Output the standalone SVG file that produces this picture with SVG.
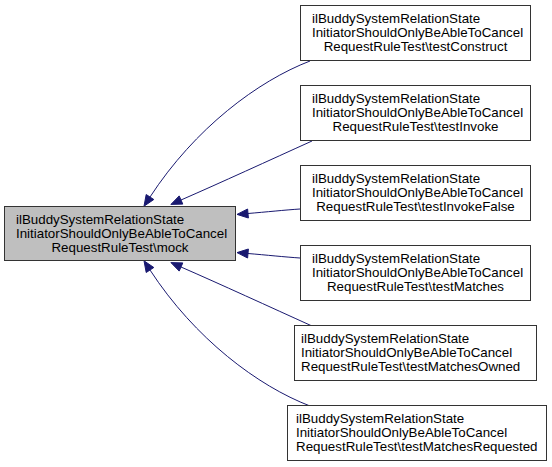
<svg xmlns="http://www.w3.org/2000/svg" width="552" height="467" viewBox="0 0 552 467">
<style>
.box{fill:#ffffff;stroke:#333333;stroke-width:1}
.cur{fill:#bfbfbf;stroke:#333333;stroke-width:1}
text{font-family:"Liberation Sans",Arial,Helvetica,sans-serif;font-size:13.33px;fill:#000000}
.c{text-anchor:middle}
.e{fill:none;stroke:#191970;stroke-width:1}
.a{fill:#191970;stroke:#191970;stroke-width:1}
</style>
<rect width="552" height="467" fill="#ffffff"/>
<g id="edges">
<path class="e" d="M310,61 C258,81 195,128 150,197"/>
<polygon class="a" points="144,206.2 153.8,199.5 146.2,194.5"/>
<path class="e" d="M312,141 C270,160 220,183 181,200"/>
<polygon class="a" points="170.9,204.4 182.8,204.1 179.2,195.9"/>
<path class="e" d="M300,209 C285,210 266,212 248,213.5"/>
<polygon class="a" points="237,214.4 248.4,218 247.6,209"/>
<path class="e" d="M300,258 C285,257 266,255 248,253.5"/>
<polygon class="a" points="237,252.6 248.4,249 247.6,258"/>
<path class="e" d="M312,326 C270,307 220,284 181,267"/>
<polygon class="a" points="170.9,262.6 182.8,262.9 179.2,271.1"/>
<path class="e" d="M310,406 C258,386 195,339 150,270"/>
<polygon class="a" points="144,260.8 153.8,267.5 146.2,272.5"/>
</g>
<g id="mock">
<rect class="cur" x="4.5" y="206.5" width="231" height="54"/>
<text x="16" y="224">ilBuddySystemRelationState</text>
<text x="16" y="238">InitiatorShouldOnlyBeAbleToCancel</text>
<text class="c" x="120" y="252">RequestRuleTest\mock</text>
</g>
<g id="testConstruct">
<rect class="box" x="300.5" y="5.5" width="230" height="55"/>
<text x="312" y="23">ilBuddySystemRelationState</text>
<text x="312" y="37">InitiatorShouldOnlyBeAbleToCancel</text>
<text class="c" x="415.5" y="51">RequestRuleTest\testConstruct</text>
</g>
<g id="testInvoke">
<rect class="box" x="300.5" y="85.5" width="230" height="55"/>
<text x="312" y="103">ilBuddySystemRelationState</text>
<text x="312" y="117">InitiatorShouldOnlyBeAbleToCancel</text>
<text class="c" x="415.5" y="131">RequestRuleTest\testInvoke</text>
</g>
<g id="testInvokeFalse">
<rect class="box" x="300.5" y="165.5" width="230" height="55"/>
<text x="312" y="183">ilBuddySystemRelationState</text>
<text x="312" y="197">InitiatorShouldOnlyBeAbleToCancel</text>
<text class="c" x="415.5" y="211">RequestRuleTest\testInvokeFalse</text>
</g>
<g id="testMatches">
<rect class="box" x="300.5" y="245.5" width="230" height="55"/>
<text x="312" y="263">ilBuddySystemRelationState</text>
<text x="312" y="277">InitiatorShouldOnlyBeAbleToCancel</text>
<text class="c" x="415.5" y="291">RequestRuleTest\testMatches</text>
</g>
<g id="testMatchesOwned">
<rect class="box" x="294.5" y="325.5" width="242" height="55"/>
<text x="301" y="343">ilBuddySystemRelationState</text>
<text x="301" y="357">InitiatorShouldOnlyBeAbleToCancel</text>
<text x="301" y="371">RequestRuleTest\testMatchesOwned</text>
</g>
<g id="testMatchesRequested">
<rect class="box" x="287.5" y="405.5" width="259" height="55"/>
<text x="296" y="423">ilBuddySystemRelationState</text>
<text x="296" y="437">InitiatorShouldOnlyBeAbleToCancel</text>
<text x="296" y="451">RequestRuleTest\testMatchesRequested</text>
</g>
</svg>
